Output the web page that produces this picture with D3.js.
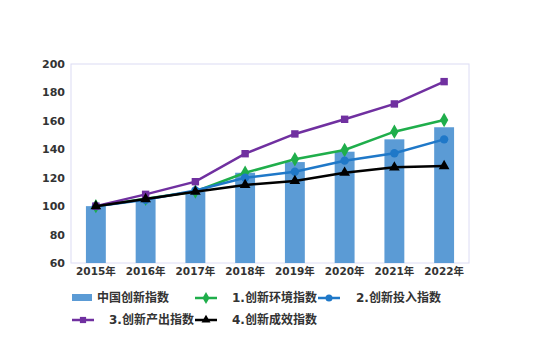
<!DOCTYPE html>
<html>
<head>
<meta charset="utf-8">
<script src="https://cdn.jsdelivr.net/npm/d3@7"></script>
<style>
  body { margin: 0; background: #fff; }
  text { font-family: "DejaVu Sans", "Noto Sans CJK SC", sans-serif; font-weight: bold; fill: #333; }
</style>
</head>
<body>
<div id="chart"></div>
<script>
var years = ['2015年', '2016年', '2017年', '2018年', '2019年', '2020年', '2021年', '2022年'];
var yTicks = [60, 80, 100, 120, 140, 160, 180, 200];
var chinaIndex = [100, 104.9, 110.2, 123.5, 131, 138.3, 147, 155.5];
var envIndex = [100, 105.2, 110.3, 123.5, 133, 139.5, 152.4, 160.6];
var inputIndex = [100, 104.5, 111, 120, 124.2, 132, 137.2, 147];
var outputIndex = [100, 108.3, 117.2, 136.9, 150.8, 161.1, 171.9, 187.6];
var effectIndex = [100, 105, 110.2, 114.9, 117.7, 123.5, 127.3, 128.2];

var series = [
  { name: '1.创新环境指数', values: envIndex, color: '#1fae4b', symbol: d3.symbolDiamond, size: 60 },
  { name: '2.创新投入指数', values: inputIndex, color: '#1f78c8', symbol: d3.symbolCircle, size: 55 },
  { name: '3.创新产出指数', values: outputIndex, color: '#7030a0', symbol: d3.symbolSquare, size: 55 },
  { name: '4.创新成效指数', values: effectIndex, color: '#000000', symbol: d3.symbolTriangle, size: 50 }
];

var width = 557, height = 361;
var margin = { left: 71, right: 88, top: 64, bottom: 98 };

var svg = d3.select('#chart').append('svg')
  .attr('width', width)
  .attr('height', height);

var x = d3.scaleBand()
  .domain(years)
  .range([margin.left, width - margin.right])
  .paddingInner(0.6)
  .paddingOuter(0.3);

var y = d3.scaleLinear()
  .domain([60, 200])
  .range([height - margin.bottom, margin.top]);

// plot border
svg.append('rect')
  .attr('x', margin.left)
  .attr('y', margin.top)
  .attr('width', width - margin.left - margin.right)
  .attr('height', height - margin.top - margin.bottom)
  .attr('fill', 'none')
  .attr('stroke', '#dcdcf4')
  .attr('stroke-width', 1);

// y axis
var yAxis = svg.append('g')
  .attr('transform', 'translate(' + margin.left + ',0)')
  .call(d3.axisLeft(y).tickValues(yTicks).tickSize(0).tickPadding(6));
yAxis.select('.domain').remove();
yAxis.selectAll('text').style('font-size', '11px').attr('fill', '#333');

// x axis
var xAxis = svg.append('g')
  .attr('transform', 'translate(0,' + (height - margin.bottom) + ')')
  .call(d3.axisBottom(x).tickSize(0).tickPadding(5));
xAxis.select('.domain').remove();
xAxis.selectAll('text').style('font-size', '10.5px').attr('fill', '#333');

// bars
svg.append('g').selectAll('rect')
  .data(chinaIndex)
  .enter().append('rect')
  .attr('x', function (d, i) { return x(years[i]); })
  .attr('y', function (d) { return y(d); })
  .attr('width', x.bandwidth())
  .attr('height', function (d) { return y(60) - y(d); })
  .attr('fill', '#5b9bd5');

var cx = function (i) { return x(years[i]) + x.bandwidth() / 2; };

var line = d3.line()
  .x(function (d, i) { return cx(i); })
  .y(function (d) { return y(d); });

series.forEach(function (s) {
  var g = svg.append('g');
  g.append('path')
    .datum(s.values)
    .attr('d', line)
    .attr('fill', 'none')
    .attr('stroke', s.color)
    .attr('stroke-width', 2.5);
  g.selectAll('path.pt')
    .data(s.values)
    .enter().append('path')
    .attr('class', 'pt')
    .attr('transform', function (d, i) { return 'translate(' + cx(i) + ',' + y(d) + ')'; })
    .attr('d', d3.symbol().type(s.symbol).size(s.size))
    .attr('fill', s.color);
});

// legend
var legend = svg.append('g');
var legendItems = [
  { name: '中国创新指数', bar: true, color: '#5b9bd5', lx: 72, tx: 97, y: 298 },
  { s: series[0], lx: 195, tx: 232, y: 298 },
  { s: series[1], lx: 318, tx: 356, y: 298 },
  { s: series[2], lx: 72, tx: 109, y: 320 },
  { s: series[3], lx: 195, tx: 232, y: 320 }
];
legendItems.forEach(function (it) {
  if (it.bar) {
    legend.append('rect')
      .attr('x', it.lx).attr('y', it.y - 4)
      .attr('width', 20).attr('height', 7)
      .attr('fill', it.color);
    legend.append('text')
      .attr('x', it.tx).attr('y', it.y + 4)
      .style('font-size', '12px')
      .text(it.name);
    return;
  }
  legend.append('line')
    .attr('x1', it.lx).attr('x2', it.lx + 22)
    .attr('y1', it.y).attr('y2', it.y)
    .attr('stroke', it.s.color).attr('stroke-width', 2.5);
  legend.append('path')
    .attr('transform', 'translate(' + (it.lx + 11) + ',' + it.y + ')')
    .attr('d', d3.symbol().type(it.s.symbol).size(it.s.size * 0.7))
    .attr('fill', it.s.color);
  legend.append('text')
    .attr('x', it.tx).attr('y', it.y + 4)
    .style('font-size', '12px')
    .text(it.s.name);
});
</script>
</body>
</html>
